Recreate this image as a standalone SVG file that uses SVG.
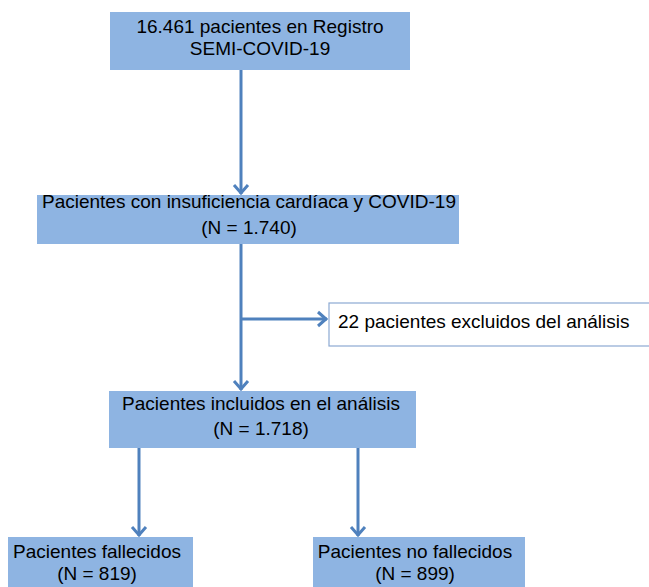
<svg xmlns="http://www.w3.org/2000/svg" width="649" height="587" viewBox="0 0 649 587">
<defs>
<style>
.box{fill:#8EB4E2;}
.wbox{fill:#FFFFFF;stroke:#8CA9D2;stroke-width:1.2;}
.t{font-family:"Liberation Sans",Arial,Helvetica,sans-serif;font-size:19px;fill:#000;}
.c{text-anchor:middle;}
.con{stroke:#4F81BD;stroke-width:3;fill:none;}
</style>
<marker id="arr" markerUnits="userSpaceOnUse" markerWidth="18" markerHeight="18" viewBox="0 0 18 18" refX="15" refY="9" orient="auto">
<path d="M6,2 L14,9 L6,16" fill="none" stroke="#4F81BD" stroke-width="3"/>
</marker>
</defs>
<rect width="649" height="587" fill="#FFFFFF"/>
<g id="connectors">
<line class="con" x1="241" y1="70" x2="241" y2="194" marker-end="url(#arr)"/>
<line class="con" x1="241" y1="244" x2="241" y2="390" marker-end="url(#arr)"/>
<line class="con" x1="241" y1="319" x2="327" y2="319" marker-end="url(#arr)"/>
<line class="con" x1="139" y1="448" x2="139" y2="536" marker-end="url(#arr)"/>
<line class="con" x1="358" y1="448" x2="358" y2="536" marker-end="url(#arr)"/>
</g>
<g id="n1">
<rect class="box" x="110" y="12" width="300" height="58"/>
<text class="t c" x="260" y="33">16.461 pacientes en Registro</text>
<text class="t c" x="260" y="55">SEMI-COVID-19</text>
</g>
<g id="n2">
<rect class="box" x="37" y="195" width="422" height="49"/>
<text class="t c" x="249" y="208">Pacientes con insuficiencia cardíaca y COVID-19</text>
<text class="t c" x="249" y="234">(N = 1.740)</text>
</g>
<g id="n3">
<rect class="wbox" x="329" y="303" width="330" height="43"/>
<text class="t" x="338" y="328">22 pacientes excluidos del análisis</text>
</g>
<g id="n4">
<rect class="box" x="109" y="391" width="307" height="57"/>
<text class="t c" x="261" y="410">Pacientes incluidos en el análisis</text>
<text class="t c" x="261" y="435">(N = 1.718)</text>
</g>
<g id="n5">
<rect class="box" x="8" y="537" width="185" height="60"/>
<text class="t c" x="97" y="558">Pacientes fallecidos</text>
<text class="t c" x="97" y="580">(N = 819)</text>
</g>
<g id="n6">
<rect class="box" x="313" y="537" width="212" height="60"/>
<text class="t c" x="415" y="558">Pacientes no fallecidos</text>
<text class="t c" x="415" y="580">(N = 899)</text>
</g>
</svg>
